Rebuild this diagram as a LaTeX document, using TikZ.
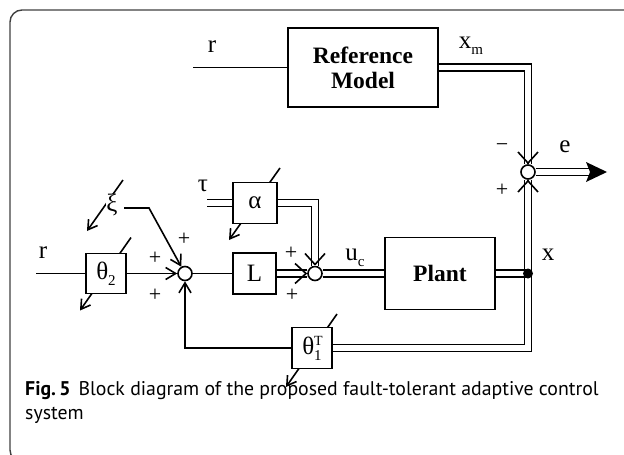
\documentclass[tikz,border=0pt]{standalone}
\usepackage{fontspec}
\setmainfont{Liberation Serif}
\newfontfamily\capfont{PT Sans}
\usetikzlibrary{arrows.meta,calc}
\newcommand{\lowsub}[1]{\raisebox{-6pt}{\fontsize{15}{15}\selectfont #1}}
\begin{document}
\begin{tikzpicture}[x=1pt,y=-1pt,
  lw/.style={line width=1.6pt},
  box/.style={draw,lw,fill=white,inner sep=0pt,minimum width=#1},
  sum/.style={circle,draw,lw,fill=white,minimum size=14pt,inner sep=0pt},
  dbl/.style={lw,double=white,double distance=5.2pt,line join=miter},
  arr/.style={lw,-{Straight Barb[length=10pt,width=12pt]}},
  dtip/.style={lw,-{Straight Barb[length=11pt,width=20pt]}},
  adapt/.style={lw,-{Straight Barb[length=9pt,width=11pt]}},
  lbl/.style={inner sep=0pt},
  pl/.style={inner sep=0pt,font=\fontsize{22}{22}\selectfont},
  every node/.style={font=\fontsize{25}{27}\selectfont}
]
\useasboundingbox (0,0) rectangle (624,455);
\draw[line width=1.4pt,draw=black!75,rounded corners=12pt] (10,10) rectangle (660,462);

% centres of adaptive blocks
\coordinate (cth2) at (106,273.5);
\coordinate (calpha) at (255,203);
\coordinate (cth1) at (312,348);
\coordinate (cxi) at (112,205);
\draw[adapt] ($(cth2)+(25,-36)$) -- ($(cth2)+(-26,37)$);
\draw[adapt] ($(calpha)+(25,-35)$) -- ($(calpha)+(-26,37)$);
\draw[adapt] ($(cth1)+(25,-34)$) -- ($(cth1)+(-26,39)$);
\draw[adapt] ($(cxi)+(11,-25)$) -- ($(cxi)+(-25,26)$);

% blocks
\node[box=150pt,minimum height=79pt,align=center,font=\bfseries\fontsize{23.5}{25}\selectfont] (ref) at (363,67.5) {Reference\\Model};
\node[box=40pt,minimum height=40pt] (th2) at (cth2) {θ\lowsub{2}};
\node[box=43pt,minimum height=41pt] (L) at (254.5,273.5) {L};
\node[box=44pt,minimum height=41pt] (alpha) at (calpha) {α};
\node[box=110pt,minimum height=72pt,font=\bfseries\fontsize{23.5}{25}\selectfont] (plant) at (440,273.5) {Plant};
\node[box=40pt,minimum height=41pt] (th1) at (cth1) {θ\rlap{\raisebox{9pt}{\fontsize{14}{14}\selectfont T}}\lowsub{1}};
\node[fill=white,inner sep=0.5pt] (xi) at (cxi) {ξ};

% summing junctions
\node[sum] (s1) at (185,273.5) {};
\node[sum] (s2) at (315,273.5) {};
\node[sum] (s3) at (528,172) {};

% free ends
\coordinate (rin) at (36,273.5);
\coordinate (rtop) at (193,67.5);
\coordinate (tauin) at (207,203);
\coordinate (xiout) at (124,208);
\coordinate (xibend) at (149,208);
\coordinate (dotc) at (528,273.5);
\coordinate (eend) at (590,172);
\coordinate (etip) at (607,172);

% connectors
\draw[lw] (rin) -- (th2.west);
\draw[arr] (th2.east) -- (s1.west);
\draw[arr] (xiout) -- (xibend) -- (s1);
\draw[arr] (th1.west) -| (s1.south);
\draw[lw] (s1.east) -- (L.west);
\draw[dbl] (L.east) -- (s2.west);
\draw[dbl] (tauin) -- (alpha.west);
\draw[dbl] (alpha.east) -| (s2.north);
\draw[dbl] (s2.east) -- (plant.west);
\draw[lw] (rtop) -- (ref.west);
\draw[dbl] (ref.east) -| (s3.north);
\draw[dbl] (s3.south) |- (th1.east);
\draw[dbl] (plant.east) -- (dotc);
\draw[dbl] (s3.east) -- (eend);
\node[circle,fill,inner sep=0pt,minimum size=10pt] (dot) at (dotc) {};

% arrow heads on double lines
\draw[dtip] ($(s2.west)+(-0.5,0)$) -- (s2.west);
\draw[dtip] ($(s2.north)+(0,-0.5)$) -- (s2.north);
\draw[dtip] ($(s3.north)+(0,-0.5)$) -- (s3.north);
\draw[dtip] ($(s3.south)+(0,0.5)$) -- (s3.south);
\fill ($(eend)+(-4,-10)$) -- (etip) -- ($(eend)+(-4,10)$) -- (eend) -- cycle;

% labels
\node[lbl] (lr1) at (43,253) {r};
\node[lbl] (lr2) at (212,47) {r};
\node[lbl] (ltau) at (203,186) {τ};
\node[lbl] (luc) at (355,258) {u\lowsub{c}};
\node[lbl] (lx) at (548,255) {x};
\node[lbl] (le) at (565,147) {e};
\node[lbl] (lxm) at (471,46) {x\lowsub{m}};
\node[pl] (p1) at (155,258) {+};
\node[pl] (p2) at (155,295) {+};
\node[pl] (p3) at (184,239) {+};
\node[pl] (p4) at (291,253) {+};
\node[pl] (p5) at (292,295) {+};
\node[pl] (p6) at (502,190) {+};
\node[pl] (m1) at (502,148) {−};

% caption
\node[anchor=base west,inner sep=0pt,font=\capfont\fontsize{19.8}{22}\selectfont] (cap1) at (25,395) {\textbf{Fig.\,5}\hspace{8pt}Block diagram of the proposed fault-tolerant adaptive control};
\node[anchor=base west,inner sep=0pt,font=\capfont\fontsize{19.8}{22}\selectfont] (cap2) at (25,419) {system};
\end{tikzpicture}
\end{document}
